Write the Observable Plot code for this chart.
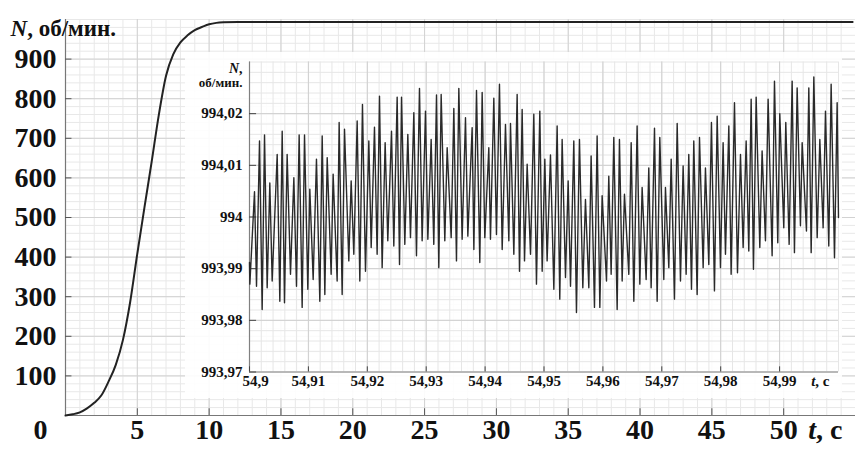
<!DOCTYPE html>
<html><head><meta charset="utf-8">
<script src="https://cdn.jsdelivr.net/npm/d3@7"></script>
<script src="https://cdn.jsdelivr.net/npm/@observablehq/plot@0.6"></script>
<style>
body{margin:0;background:#fff;}
#wrap{position:relative;width:855px;height:451px;overflow:hidden;background:#fff;}
#main{position:absolute;left:0;top:0;}
#inset{position:absolute;left:185px;top:52px;}
</style></head><body><div id="wrap"><div id="main"></div><div id="inset"></div></div>
<script>
// Main chart: run-up of rotation speed N (rpm) vs time t (s)
const mainTime  = [0, 0.5, 1, 1.5, 2, 2.5, 3, 3.5, 4, 4.5, 5, 5.5, 6, 6.5, 7, 7.5, 8, 8.5, 9, 9.5, 10, 10.5, 11, 12, 13, 20, 30, 40, 50, 54.8];
const mainSpeed = [0, 3, 8, 18, 32, 51, 86, 128, 191, 286, 409, 526, 641, 760, 858, 912, 942, 960, 973, 981, 988, 991.5, 993, 994, 994, 994, 994, 994, 994, 994];
const mainXTicks = [5, 10, 15, 20, 25, 30, 35, 40, 45, 50];
const mainYTicks = [100, 200, 300, 400, 500, 600, 700, 800, 900];

// Inset: steady-state oscillation, time after 54.9 s in milliseconds
const insetTimeMs = [
 0.00, 0.06, 0.85, 1.19, 1.70, 2.15, 2.55, 3.00, 3.45, 3.85,
 4.70, 5.15, 5.55, 5.94, 6.39, 6.96, 7.53, 7.98, 8.43, 8.94,
 9.34, 9.90, 10.24, 10.81, 11.37, 11.94, 12.34, 12.79, 13.19, 13.86,
 14.20, 14.88, 15.22, 15.73, 16.13, 16.86, 17.26, 17.71, 18.28, 18.73,
 19.18, 19.69, 20.26, 20.66, 21.22, 21.67, 22.07, 22.52, 23.03, 23.48,
 24.11, 24.50, 25.07, 25.47, 25.81, 26.37, 26.88, 27.33, 27.90, 28.35,
 28.86, 29.31, 29.88, 30.28, 30.84, 31.29, 31.75, 32.14, 32.54, 33.16,
 33.56, 34.24, 34.69, 35.14, 35.54, 36.10, 36.67, 37.07, 37.80, 38.09,
 38.54, 39.10, 39.50, 39.95, 40.63, 40.91, 41.48, 41.93, 42.44,
 42.90, 43.46, 44.03, 44.31, 44.88, 45.44, 45.84, 46.29, 46.69, 47.14,
 47.71, 48.27, 48.72, 49.29, 49.69, 50.14, 50.53, 51.10, 51.67, 52.23,
 52.68, 53.08, 53.65, 54.10, 54.50, 55.06, 55.51, 56.02, 56.59, 57.04,
 57.61, 58.00, 58.57, 59.02, 59.48, 59.87, 60.61, 61.00, 61.40, 61.85,
 62.42, 62.81, 63.27, 63.66, 64.40, 64.80, 65.25, 65.81, 66.27, 66.66,
 67.34, 67.79, 68.19, 68.76, 69.21, 69.66, 70.34, 70.62, 71.19, 71.59,
 72.15, 72.61, 73.17, 73.62, 74.13, 74.58, 75.04, 75.43, 76.00, 76.40,
 77.02, 77.41, 77.98, 78.43, 78.94, 79.40, 79.96, 80.41, 80.81, 81.38,
 81.77, 82.34, 82.85, 83.36, 83.81, 84.32, 84.77, 85.17, 85.56, 86.02,
 86.64, 87.03, 87.60, 88.05, 88.73, 89.13, 89.69, 90.03, 90.71, 91.05,
 91.62, 92.13, 92.52, 92.98, 93.54, 93.83, 94.56, 94.96, 95.36, 95.81,
 96.38, 96.83, 97.39, 97.79, 98.35, 98.75, 99.32, 99.77, 100.00
];
const insetSpeed = [
 993.9912, 993.9870, 994.0049, 993.9866, 994.0147, 993.9821, 994.0159, 993.9863, 994.0066, 993.9876,
 994.0121, 993.9837, 994.0166, 993.9834, 994.0121, 993.9889, 994.0076, 993.9866, 994.0159, 993.9825,
 994.0159, 993.9860, 994.0054, 993.9879, 994.0112, 993.9837, 994.0157, 993.9850, 994.0115, 993.9889,
 994.0083, 993.9876, 994.0183, 993.9850, 994.0170, 993.9915, 994.0070, 993.9928, 994.0186, 993.9876,
 994.0218, 993.9895, 994.0147, 993.9941, 994.0174, 993.9928, 994.0234, 993.9902, 994.0144, 993.9954,
 994.0166, 993.9944, 994.0232, 993.9908, 994.0232, 993.9947, 994.0160, 993.9960, 994.0202, 993.9925,
 994.0249, 993.9954, 994.0205, 993.9957, 994.0150, 993.9947, 994.0236, 993.9902, 994.0237, 993.9954,
 994.0134, 993.9960, 994.0210, 993.9915, 994.0249, 993.9957, 994.0192, 993.9963, 994.0173, 993.9937,
 994.0245, 993.9912, 994.0241, 993.9960, 994.0134, 993.9957, 994.0230, 993.9966, 994.0257,
 993.9937, 994.0179, 993.9954, 994.0181, 993.9928, 994.0237, 993.9895, 994.0208, 993.9915, 994.0102,
 993.9928, 994.0199, 993.9870, 994.0205, 993.9895, 994.0112, 993.9915, 994.0120, 993.9860, 994.0176,
 993.9841, 994.0150, 993.9883, 994.0070, 993.9866, 994.0147, 993.9815, 994.0150, 993.9863, 994.0034,
 993.9863, 994.0118, 993.9825, 994.0157, 993.9825, 994.0041, 993.9876, 994.0079, 993.9889, 994.0154,
 993.9821, 994.0150, 993.9876, 994.0044, 993.9889, 994.0144, 993.9837, 994.0176, 993.9870, 994.0057,
 993.9879, 994.0095, 993.9863, 994.0172, 993.9837, 994.0154, 993.9879, 994.0057, 993.9902, 994.0112,
 993.9841, 994.0181, 993.9876, 994.0099, 993.9889, 994.0121, 993.9860, 994.0147, 993.9850, 994.0154,
 993.9902, 994.0095, 993.9908, 994.0183, 993.9857, 994.0195, 993.9902, 994.0144, 993.9928, 994.0176,
 993.9889, 994.0221, 993.9892, 994.0121, 993.9941, 994.0147, 993.9934, 994.0228, 993.9899, 994.0232,
 993.9941, 994.0128, 993.9954, 994.0228, 993.9925, 994.0263, 993.9950, 994.0200, 993.9979, 994.0183,
 993.9947, 994.0263, 993.9931, 994.0250, 993.9983, 994.0144, 993.9973, 994.0250, 993.9931, 994.0271,
 993.9960, 994.0150, 993.9979, 994.0205, 993.9944, 994.0257, 993.9921, 994.0221, 993.9999
];
const insetXTicks = [54.9, 54.91, 54.92, 54.93, 54.94, 54.95, 54.96, 54.97, 54.98, 54.99];
const insetXTickLabels = ["54,9", "54,91", "54,92", "54,93", "54,94", "54,95", "54,96", "54,97", "54,98", "54,99"];
const insetYTicks = [993.97, 993.98, 993.99, 994, 994.01, 994.02];
const insetYTickLabels = ["993,97", "993,98", "993,99", "994", "994,01", "994,02"];

const serif = "Liberation Serif";
const T = (extra) => Object.assign({fontFamily: serif, fill: "#111"}, extra);

const mainData = mainTime.map((t, i) => ({t, n: mainSpeed[i]}));
const mainMinorX = d3.range(1, 55);
const mainMinorY = d3.range(20, 1001, 20);

const main = Plot.plot({
  width: 855, height: 451,
  marginLeft: 65, marginRight: 0, marginTop: 19, marginBottom: 36,
  x: {domain: [0, 55], axis: null},
  y: {domain: [0, 1000], axis: null},
  style: {background: "white"},
  marks: [
    Plot.ruleX(mainMinorX, {stroke: "#e8e8e8", strokeWidth: 1}),
    Plot.ruleY(mainMinorY, {stroke: "#e8e8e8", strokeWidth: 1}),
    Plot.ruleX(mainXTicks, {stroke: "#d2d2d2", strokeWidth: 1}),
    Plot.ruleY(mainYTicks, {stroke: "#d2d2d2", strokeWidth: 1}),
    Plot.ruleX([0], {stroke: "#777", strokeWidth: 1.2}),
    Plot.ruleY([0], {stroke: "#777", strokeWidth: 1.2}),
    Plot.ruleX(mainXTicks, {y1: 0, y2: 17, stroke: "#555"}),
    Plot.ruleY(mainYTicks, {x1: 0, x2: 0.45, stroke: "#555"}),
    Plot.line(mainData, {x: "t", y: "n", stroke: "#222", strokeWidth: 2, curve: "monotone-x"}),
    Plot.text(mainYTicks, T({x: 0, y: d => d, text: d => String(d), textAnchor: "end", dx: -9, fontSize: 28, fontWeight: "bold"})),
    Plot.text(mainXTicks, T({x: d => d, frameAnchor: "bottom", text: d => String(d), dy: 23, fontSize: 28, fontWeight: "bold"})),
    Plot.text(["0"], T({x: 0, frameAnchor: "bottom", text: d => d, dy: 23, dx: -25, fontSize: 28, fontWeight: "bold"})),
    Plot.text(["t, c"], T({frameAnchor: "bottom-right", text: d => d, dy: 23, dx: -13, fontSize: 28, fontWeight: "bold"})),
    Plot.text(["N, об/мин."], T({frameAnchor: "top-left", text: d => d, textAnchor: "start", dx: -55, dy: 0, fontSize: 23, fontWeight: "bold"}))
  ]
});
document.getElementById("main").appendChild(main);

const insetData = insetTimeMs.map((ms, i) => ({t: 54.9 + ms / 1000, n: insetSpeed[i]}));
const insetMinorX = d3.range(0, 51).map(i => 54.9 + i * 0.002);
const insetMinorY = d3.range(0, 31).map(i => 993.97 + i * 0.002);
const insetXLabelData = insetXTicks.map((v, i) => ({v, label: insetXTickLabels[i]}));
const insetYLabelData = insetYTicks.map((v, i) => ({v, label: insetYTickLabels[i]}));

const inset = Plot.plot({
  width: 657, height: 346,
  marginLeft: 64, marginRight: 4, marginTop: 9.5, marginBottom: 26.5,
  x: {domain: [54.9, 55.0], axis: null},
  y: {domain: [993.97, 994.03], axis: null},
  style: {background: "rgba(255,255,255,0.9)"},
  marks: [
    Plot.ruleX(insetMinorX, {stroke: "#e6e6e6", strokeWidth: 1}),
    Plot.ruleY(insetMinorY, {stroke: "#e6e6e6", strokeWidth: 1}),
    Plot.ruleX(insetXTicks, {stroke: "#cfcfcf", strokeWidth: 1}),
    Plot.ruleY(insetYTicks, {stroke: "#cfcfcf", strokeWidth: 1}),
    Plot.ruleX([54.9], {stroke: "#808080", strokeWidth: 1.2}),
    Plot.ruleY([993.97], {stroke: "#909090", strokeWidth: 1.2}),
    Plot.ruleY(insetYTicks, {x1: 54.9, x2: 54.9012, stroke: "#444"}),
    Plot.ruleX(insetXTicks, {y1: 993.97, y2: 993.971, stroke: "#444"}),
    Plot.line(insetData, {x: "t", y: "n", stroke: "#2a2a2a", strokeWidth: 1.4}),
    Plot.text(insetYLabelData, T({x: 54.9, y: "v", text: "label", textAnchor: "end", dx: -7, fontSize: 15, fontWeight: "bold"})),
    Plot.text(insetXLabelData.slice(0, 1), T({x: "v", frameAnchor: "bottom", text: "label", dy: 13.5, dx: 6, fontSize: 15, fontWeight: "bold"})),
    Plot.text(insetXLabelData.slice(1), T({x: "v", frameAnchor: "bottom", text: "label", dy: 13.5, fontSize: 15, fontWeight: "bold"})),
    Plot.text(["t, c"], T({frameAnchor: "bottom-right", text: d => d, dy: 13.5, dx: -9, fontSize: 15, fontWeight: "bold"})),
    Plot.text(["N,"], T({frameAnchor: "top-left", text: d => d, textAnchor: "end", dx: -7, dy: 1.5, fontSize: 14, fontWeight: "bold"})),
    Plot.text(["об/мин."], T({frameAnchor: "top-left", text: d => d, textAnchor: "end", dx: -7, dy: 15.5, fontSize: 13, fontWeight: "bold"}))
  ]
});
document.getElementById("inset").appendChild(inset);

function italicize(svg, full, part) {
  d3.select(svg).selectAll("text").each(function () {
    if (this.textContent === full) {
      const target = this.querySelector("tspan") || this;
      target.textContent = "";
      d3.select(target).append("tspan").attr("font-style", "italic").text(part);
      d3.select(target).append("tspan").text(full.slice(part.length));
    }
  });
}
italicize(main, "t, c", "t");
italicize(main, "N, об/мин.", "N");
italicize(inset, "t, c", "t");
italicize(inset, "N,", "N");
</script>
</body></html>
